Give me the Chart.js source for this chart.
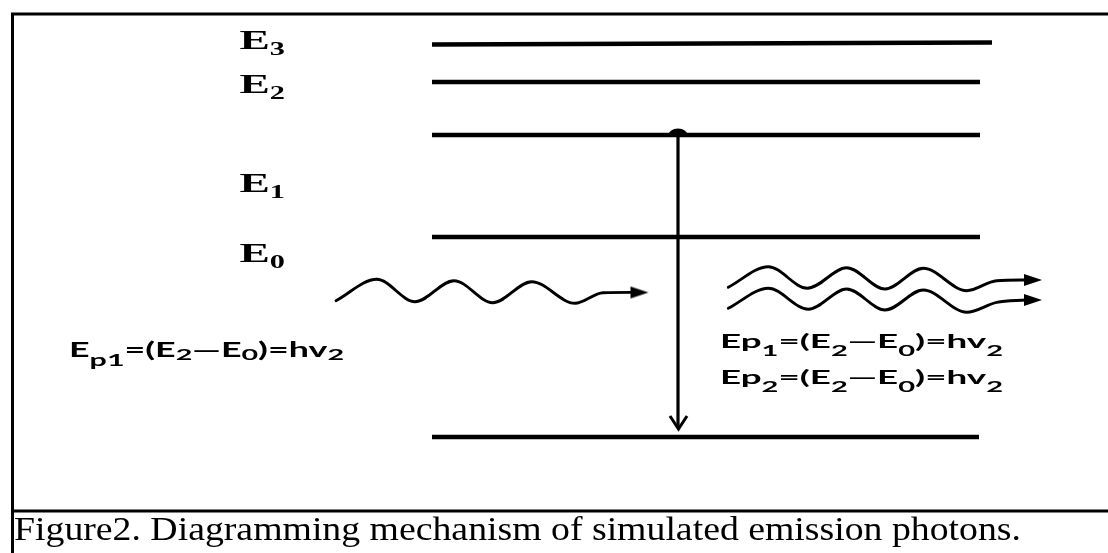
<!DOCTYPE html>
<html><head><meta charset="utf-8">
<script src="https://cdn.jsdelivr.net/npm/chart.js@4.4.0/dist/chart.umd.min.js"></script>
<style>html,body{margin:0;padding:0;background:#fff;overflow:hidden}canvas{display:block}
#fl{position:absolute;left:-9999px;top:0}</style>
</head><body>
<div id="fl"><span style="font:bold 20px 'Liberation Serif'">E3</span><span style="font:20px 'Liberation Serif'">Fig</span><span style="font:bold 20px 'Lato'">Ep</span></div>
<canvas id="c" width="1108" height="553"></canvas>
<script>
// ---------------- data (diagram units) ----------------
// energy level bars
const levelX0 = [432, 432, 432, 432, 432];
const levelX1 = [992, 980, 980, 980, 979];
const levelYLeft  = [44.5, 82, 135, 237, 437];
const levelYRight = [42.5, 82, 135, 237, 437];
// level labels
const labelMain = ['E', 'E', 'E', 'E'];
const labelSub  = ['3', '2', '1', '0'];
const labelBaseline = [49.3, 93.3, 191.7, 261.7];
// transition (electron drop)
const transitionX = [678, 678];
const transitionY = [135, 428];
const arrowHeadX = [670, 678.5, 687];
const arrowHeadY = [416, 429, 416];
// incident photon wave
const incidentX = [336, 376.7, 415, 454, 492.7, 531.7, 575, 603, 633];
const incidentY = [300.7, 279.3, 301.7, 280.7, 302.7, 281.7, 303.3, 292.7, 292.4];
const incidentTip = [648.5, 292.5];
// emitted photon waves
const emitted1X = [728.3, 768.3, 807.3, 846.7, 885, 923.3, 966.7, 996.7, 1026];
const emitted1Y = [287.3, 266.7, 288.3, 267.7, 289, 268.3, 290.7, 280.7, 280];
const emitted2X = [728.3, 768.3, 808.3, 846.7, 885, 923.3, 966.7, 996.7, 1026];
const emitted2Y = [308.3, 288.3, 309.3, 289, 310, 290, 312.3, 302.3, 300];
const emittedTips = [[1042, 280], [1042, 300]];
// formula texts: [text, kind] kind 0 = normal, 1 = subscript, 2 = deep subscript
const formulaIncident = [['E',0],['p1',2],['=(E',0],['2',1],['\u2014E',0],['0',1],[')=hv',0],['2',1]];
const formulaEmitted1 = [['Ep',0],['1',2],['=(E',0],['2',2],['\u2014E',0],['0',2],[')=hv',0],['2',2]];
const formulaEmitted2 = [['Ep',0],['2',2],['=(E',0],['2',2],['\u2014E',0],['0',2],[')=hv',0],['2',2]];
const captionText = 'Figure2. Diagramming mechanism of simulated emission photons.';

// ---------------- helpers ----------------
const SERIF = '"Liberation Serif", "Times New Roman", Times, serif';
const SANS = 'Lato, "Open Sans", "Liberation Sans", Arial, sans-serif';
function pts(xs, ys) { return xs.map((x, i) => ({x: x, y: ys[i]})); }

function makeArrowHead() {
  const c = document.createElement('canvas');
  c.width = 38; c.height = 14;
  const g = c.getContext('2d');
  g.fillStyle = '#000';
  g.beginPath(); g.moveTo(1, 1); g.lineTo(19, 7); g.lineTo(1, 13); g.closePath(); g.fill();
  return c;
}
function makeDome() {
  const c = document.createElement('canvas');
  c.width = 22; c.height = 16;
  const g = c.getContext('2d');
  g.fillStyle = '#000';
  g.beginPath(); g.ellipse(11, 9, 10, 7.5, 0, Math.PI, 2 * Math.PI); g.closePath(); g.fill();
  return c;
}

function drawRich(ctx, x, baseline, segs, fonts, targetW) {
  let total = 0;
  const widths = segs.map(s => { ctx.font = fonts[s[1]].font; const w = ctx.measureText(s[0]).width; total += w; return w; });
  const sx = targetW / total;
  ctx.save();
  ctx.translate(x, baseline);
  ctx.scale(sx, 1);
  ctx.fillStyle = '#000';
  ctx.textBaseline = 'alphabetic';
  let cx = 0;
  segs.forEach((s, i) => { ctx.font = fonts[s[1]].font; ctx.fillText(s[0], cx, fonts[s[1]].dy); cx += widths[i]; });
  ctx.restore();
}

function build() {
  const arrowImg = makeArrowHead();
  const domeImg = makeDome();
  const datasets = [];
  for (let i = 0; i < levelX0.length; i++) {
    datasets.push({data: [{x: levelX0[i], y: levelYLeft[i]}, {x: levelX1[i], y: levelYRight[i]}],
      showLine: true, borderColor: '#000', borderWidth: 4.6, pointRadius: 0, borderCapStyle: 'butt'});
  }
  datasets.push({data: pts(transitionX, transitionY), showLine: true, borderColor: '#000', borderWidth: 3.2, pointRadius: 0});
  datasets.push({data: pts(arrowHeadX, arrowHeadY), showLine: true, borderColor: '#000', borderWidth: 3, pointRadius: 0,
    borderJoinStyle: 'miter', borderCapStyle: 'butt'});
  datasets.push({data: [{x: transitionX[0], y: transitionY[0]}], pointStyle: domeImg, pointRadius: 5, showLine: false});
  const waveStyle = {showLine: true, borderColor: '#000', borderWidth: 2.9, pointRadius: 0, cubicInterpolationMode: 'monotone',
    borderCapStyle: 'round', borderJoinStyle: 'round'};
  datasets.push(Object.assign({data: pts(incidentX, incidentY)}, waveStyle));
  datasets.push(Object.assign({data: pts(emitted1X, emitted1Y)}, waveStyle));
  datasets.push(Object.assign({data: pts(emitted2X, emitted2Y)}, waveStyle));
  datasets.push({data: [{x: incidentTip[0], y: incidentTip[1]}].concat(emittedTips.map(t => ({x: t[0], y: t[1]}))),
    pointStyle: arrowImg, pointRadius: 5, showLine: false});

  const annotations = {
    id: 'annotations',
    beforeDatasetsDraw(chart) {
      const ctx = chart.ctx, X = chart.scales.x, Y = chart.scales.y;
      ctx.save();
      ctx.fillStyle = '#fff';
      ctx.fillRect(0, 0, chart.width, chart.height);
      ctx.strokeStyle = '#000';
      ctx.lineWidth = 3;
      ctx.beginPath();
      ctx.moveTo(X.getPixelForValue(12.5), Y.getPixelForValue(553));
      ctx.lineTo(X.getPixelForValue(12.5), Y.getPixelForValue(14));
      ctx.moveTo(X.getPixelForValue(11), Y.getPixelForValue(14));
      ctx.lineTo(X.getPixelForValue(1108), Y.getPixelForValue(14));
      ctx.moveTo(X.getPixelForValue(11), Y.getPixelForValue(511));
      ctx.lineTo(X.getPixelForValue(1108), Y.getPixelForValue(511));
      ctx.stroke();
      ctx.restore();
    },
    afterDatasetsDraw(chart) {
      const ctx = chart.ctx, X = chart.scales.x, Y = chart.scales.y;
      const px = v => X.getPixelForValue(v), py = v => Y.getPixelForValue(v);
      const labelFonts = {0: {font: 'bold 27px ' + SERIF, dy: 0}, 1: {font: 'bold 18px ' + SERIF, dy: 6}};
      for (let i = 0; i < labelMain.length; i++) {
        drawRich(ctx, px(239.5), py(labelBaseline[i]), [[labelMain[i], 0], [labelSub[i], 1]], labelFonts, px(285) - px(239.5));
      }
      const leftFonts = {0: {font: 'bold 20px ' + SANS, dy: 0}, 1: {font: 'bold 16px ' + SANS, dy: 3}, 2: {font: 'bold 17px ' + SANS, dy: 9}};
      drawRich(ctx, px(69), py(357.3), formulaIncident, leftFonts, px(344) - px(69));
      const rightFonts = {0: {font: 'bold 19px ' + SANS, dy: 0}, 1: {font: 'bold 14px ' + SANS, dy: 3}, 2: {font: 'bold 15px ' + SANS, dy: 8}};
      drawRich(ctx, px(720), py(348.4), formulaEmitted1, rightFonts, px(1003) - px(720));
      drawRich(ctx, px(720), py(383.6), formulaEmitted2, rightFonts, px(1003) - px(720));
      drawRich(ctx, px(14), py(540), [[captionText, 0]], {0: {font: '33px ' + SERIF, dy: 0}}, px(1021) - px(14));
    }
  };

  new Chart(document.getElementById('c'), {
    type: 'scatter',
    data: {datasets: datasets},
    options: {
      responsive: false, animation: false, devicePixelRatio: 1,
      layout: {padding: 0, autoPadding: false},
      scales: {
        x: {type: 'linear', min: 0, max: 1108, display: false},
        y: {type: 'linear', min: 0, max: 553, reverse: true, display: false}
      },
      plugins: {legend: {display: false}, tooltip: {enabled: false}, title: {display: false}},
      events: []
    },
    plugins: [annotations]
  });
}

let built = false;
function go() { if (!built) { built = true; build(); } }
if (document.fonts && document.fonts.load) {
  Promise.all([
    document.fonts.load('bold 27px "Liberation Serif"'),
    document.fonts.load('33px "Liberation Serif"'),
    document.fonts.load('bold 20px Lato')
  ]).then(go, go);
  setTimeout(go, 400);
} else { go(); }
</script>
</body></html>
